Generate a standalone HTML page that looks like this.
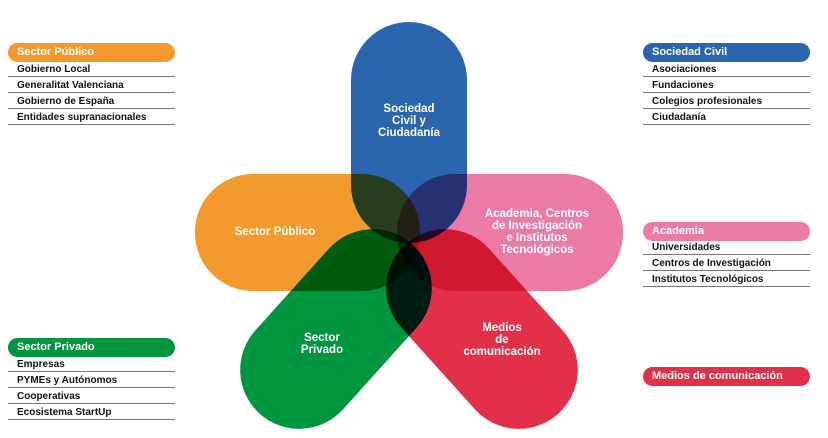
<!DOCTYPE html>
<html><head><meta charset="utf-8"><style>
body{margin:0;width:828px;height:438px;background:#fff;position:relative;overflow:hidden;font-family:"Liberation Sans",sans-serif}
.h{position:absolute;height:19px;border-radius:10px;color:#fff;font-weight:bold;font-size:11px;line-height:19px;padding-left:9px;box-sizing:border-box;width:167px}
.r{position:absolute;width:167px;height:16px;border-bottom:1px solid #777;font-size:10px;font-weight:bold;color:#111;line-height:17px;padding-left:9px;box-sizing:border-box}
svg{position:absolute;left:0;top:0}
</style></head><body>
<svg width="828" height="438" viewBox="0 0 828 438">
<g style="isolation:isolate">
<rect x="351" y="22" width="116" height="221" rx="58" fill="#2a65ae" style="mix-blend-mode:multiply"/>
<rect x="195" y="174" width="225" height="117" rx="58" fill="#f39a2e" style="mix-blend-mode:multiply"/>
<rect x="397" y="174" width="226" height="117" rx="58" fill="#ec7aa6" style="mix-blend-mode:multiply"/>
<rect x="277" y="215" width="118" height="228" rx="59" fill="#00963f" transform="rotate(42 336 329)" style="mix-blend-mode:multiply"/>
<rect x="423" y="215" width="118" height="228" rx="59" fill="#e3304a" transform="rotate(-42 482 329)" style="mix-blend-mode:multiply"/>
</g>
<g fill="#fff" font-weight="bold" font-size="11.5" text-anchor="middle" font-family="Liberation Sans,sans-serif">
<text x="409" y="112">Sociedad</text><text x="409" y="124">Civil y</text><text x="409" y="136">Ciudadanía</text>
<text x="275" y="235">Sector Público</text>
<text x="537" y="217">Academia, Centros</text><text x="537" y="229">de Investigación</text><text x="537" y="241">e Institutos</text><text x="537" y="253">Tecnológicos</text>
<text x="322" y="341">Sector</text><text x="322" y="353">Privado</text>
<text x="502" y="331">Medios</text><text x="502" y="343">de</text><text x="502" y="355">comunicación</text>
</g>
</svg>
<div class="h" style="left:8px;top:43px;background:#f39a2e">Sector Público</div>
<div class="r" style="left:8px;top:61px">Gobierno Local</div>
<div class="r" style="left:8px;top:77px">Generalitat Valenciana</div>
<div class="r" style="left:8px;top:93px">Gobierno de España</div>
<div class="r" style="left:8px;top:109px">Entidades supranacionales</div>

<div class="h" style="left:8px;top:338px;background:#00963f">Sector Privado</div>
<div class="r" style="left:8px;top:356px">Empresas</div>
<div class="r" style="left:8px;top:372px">PYMEs y Autónomos</div>
<div class="r" style="left:8px;top:388px">Cooperativas</div>
<div class="r" style="left:8px;top:404px">Ecosistema StartUp</div>

<div class="h" style="left:643px;top:43px;background:#2a65ae">Sociedad Civil</div>
<div class="r" style="left:643px;top:61px">Asociaciones</div>
<div class="r" style="left:643px;top:77px">Fundaciones</div>
<div class="r" style="left:643px;top:93px">Colegios profesionales</div>
<div class="r" style="left:643px;top:109px">Ciudadanía</div>

<div class="h" style="left:643px;top:222px;background:#ec7aa6">Academia</div>
<div class="r" style="left:643px;top:239px">Universidades</div>
<div class="r" style="left:643px;top:255px">Centros de Investigación</div>
<div class="r" style="left:643px;top:271px">Institutos Tecnológicos</div>

<div class="h" style="left:643px;top:367px;background:#e3304a">Medios de comunicación</div>
</body></html>
